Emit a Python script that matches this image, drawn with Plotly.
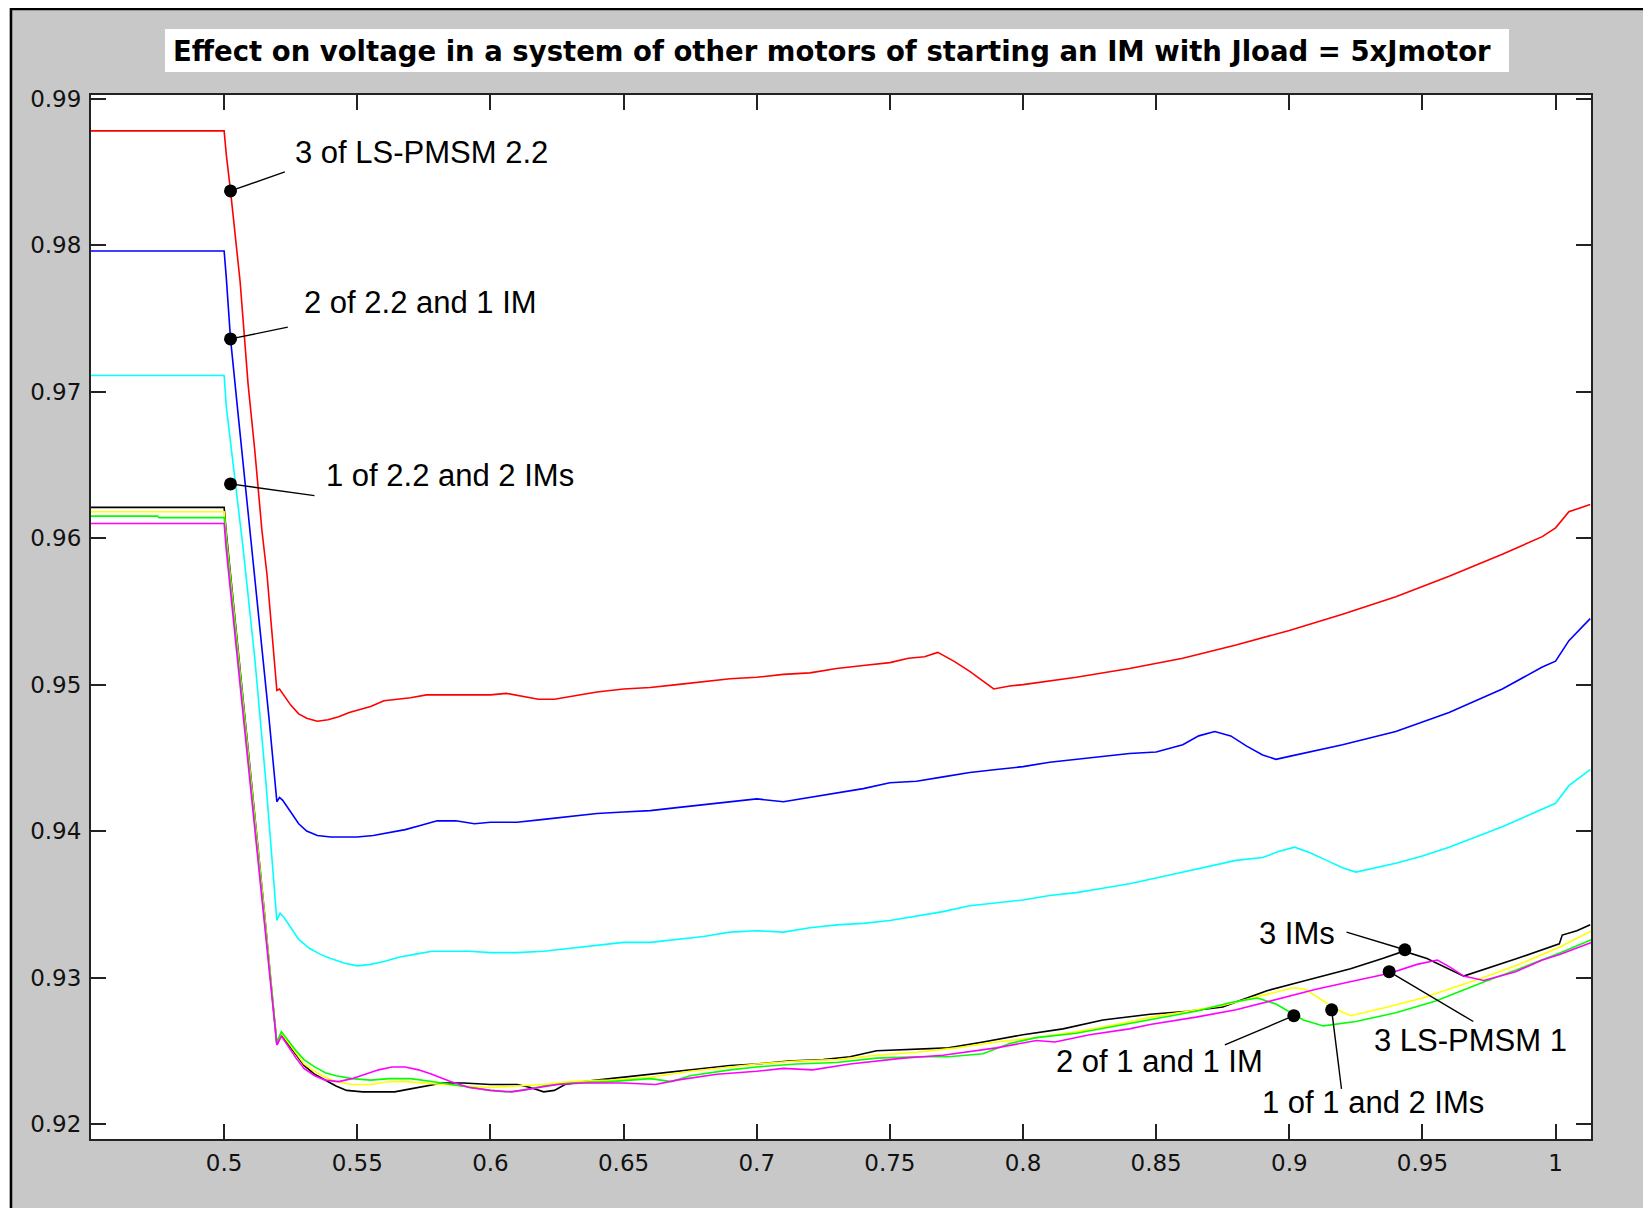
import plotly.graph_objects as go

# ---------------- data ----------------
red_x = [0.45, 0.5, 0.5008, 0.5024, 0.506, 0.509, 0.5115, 0.5142, 0.5161, 0.518, 0.5198, 0.5208, 0.522, 0.525, 0.528, 0.531, 0.535, 0.539, 0.543, 0.547, 0.551, 0.555, 0.56, 0.565, 0.57, 0.576, 0.582, 0.59, 0.6, 0.606, 0.612, 0.618, 0.624, 0.63, 0.64, 0.65, 0.66, 0.67, 0.68, 0.69, 0.7, 0.71, 0.72, 0.73, 0.74, 0.75, 0.757, 0.763, 0.768, 0.774, 0.78, 0.785, 0.789, 0.795, 0.8, 0.82, 0.84, 0.86, 0.88, 0.9, 0.92, 0.94, 0.96, 0.98, 0.995, 1.0, 1.005, 1.013]
red_y = [0.9878, 0.9878, 0.9862, 0.9837, 0.9775, 0.9705, 0.966, 0.9605, 0.9575, 0.9535, 0.9496, 0.9497, 0.9494, 0.9486, 0.9480, 0.9477, 0.9475, 0.9476, 0.9478, 0.9481, 0.9483, 0.9485, 0.9489, 0.9490, 0.9491, 0.9493, 0.9493, 0.9493, 0.9493, 0.9494, 0.9492, 0.9490, 0.9490, 0.9492, 0.9495, 0.9497, 0.9498, 0.9500, 0.9502, 0.9504, 0.9505, 0.9507, 0.9508, 0.9511, 0.9513, 0.9515, 0.9518, 0.9519, 0.9522, 0.9516, 0.9509, 0.9502, 0.9497, 0.9499, 0.9500, 0.9505, 0.9511, 0.9518, 0.9527, 0.9537, 0.9548, 0.9560, 0.9574, 0.9589, 0.9601, 0.9607, 0.9618, 0.9623]

blue_x = [0.45, 0.5, 0.5008, 0.5024, 0.5055, 0.5095, 0.5135, 0.5168, 0.5198, 0.5208, 0.522, 0.525, 0.528, 0.531, 0.535, 0.54, 0.545, 0.55, 0.556, 0.562, 0.568, 0.574, 0.58, 0.587, 0.594, 0.6, 0.61, 0.62, 0.63, 0.64, 0.65, 0.66, 0.67, 0.68, 0.69, 0.7, 0.71, 0.72, 0.73, 0.74, 0.75, 0.76, 0.77, 0.78, 0.79, 0.8, 0.81, 0.82, 0.83, 0.84, 0.85, 0.86, 0.866, 0.872, 0.878, 0.884, 0.89, 0.895, 0.9, 0.92, 0.94, 0.96, 0.98, 0.995, 1.0, 1.005, 1.013]
blue_y = [0.9796, 0.9796, 0.9778, 0.9736, 0.9680, 0.9610, 0.9540, 0.9478, 0.9420, 0.9423, 0.9421, 0.9413, 0.9405, 0.9400, 0.9397, 0.9396, 0.9396, 0.9396, 0.9397, 0.9399, 0.9401, 0.9404, 0.9407, 0.9407, 0.9405, 0.9406, 0.9406, 0.9408, 0.9410, 0.9412, 0.9413, 0.9414, 0.9416, 0.9418, 0.9420, 0.9422, 0.9420, 0.9423, 0.9426, 0.9429, 0.9433, 0.9434, 0.9437, 0.9440, 0.9442, 0.9444, 0.9447, 0.9449, 0.9451, 0.9453, 0.9454, 0.9459, 0.9465, 0.9468, 0.9465, 0.9458, 0.9452, 0.9449, 0.9451, 0.9459, 0.9468, 0.9481, 0.9497, 0.9512, 0.9516, 0.9530, 0.9545]

cyan_x = [0.45, 0.5, 0.5008, 0.5028, 0.507, 0.5115, 0.5157, 0.5198, 0.521, 0.5225, 0.525, 0.528, 0.532, 0.536, 0.54, 0.545, 0.55, 0.555, 0.56, 0.566, 0.572, 0.578, 0.585, 0.592, 0.6, 0.61, 0.62, 0.63, 0.64, 0.65, 0.66, 0.67, 0.68, 0.69, 0.7, 0.71, 0.72, 0.73, 0.74, 0.75, 0.76, 0.77, 0.78, 0.79, 0.8, 0.81, 0.82, 0.83, 0.84, 0.85, 0.86, 0.87, 0.88, 0.89, 0.896, 0.902, 0.908, 0.914, 0.92, 0.925, 0.93, 0.94, 0.95, 0.96, 0.97, 0.98, 0.99, 1.0, 1.005, 1.013]
cyan_y = [0.9711, 0.9711, 0.9690, 0.9660, 0.9595, 0.9518, 0.9433, 0.9339, 0.9344, 0.9341, 0.9334, 0.9326, 0.9320, 0.9316, 0.9313, 0.9310, 0.9308, 0.9309, 0.9311, 0.9314, 0.9316, 0.9318, 0.9318, 0.9318, 0.9317, 0.9317, 0.9318, 0.9320, 0.9322, 0.9324, 0.9324, 0.9326, 0.9328, 0.9331, 0.9332, 0.9331, 0.9334, 0.9336, 0.9337, 0.9339, 0.9342, 0.9345, 0.9349, 0.9351, 0.9353, 0.9356, 0.9358, 0.9361, 0.9364, 0.9368, 0.9372, 0.9376, 0.9380, 0.9382, 0.9386, 0.9389, 0.9385, 0.9380, 0.9375, 0.9372, 0.9374, 0.9378, 0.9383, 0.9389, 0.9396, 0.9403, 0.9411, 0.9419, 0.9431, 0.9442]

black_x = [0.45, 0.5, 0.5008, 0.505, 0.51, 0.515, 0.5198, 0.5215, 0.524, 0.527, 0.53, 0.534, 0.538, 0.542, 0.546, 0.552, 0.558, 0.564, 0.57, 0.576, 0.582, 0.59, 0.6, 0.61, 0.615, 0.62, 0.624, 0.628, 0.635, 0.645, 0.655, 0.665, 0.675, 0.69, 0.7, 0.712, 0.725, 0.735, 0.745, 0.76, 0.772, 0.785, 0.8, 0.815, 0.83, 0.8477, 0.862, 0.875, 0.8916, 0.904, 0.923, 0.935, 0.943, 0.9517, 0.9655, 0.9855, 1.0014, 1.0025, 1.008, 1.013]
black_y = [0.9621, 0.9621, 0.9604, 0.9526, 0.9438, 0.9347, 0.9254, 0.9261, 0.9255, 0.9247, 0.9240, 0.9234, 0.9230, 0.9226, 0.9223, 0.9222, 0.9222, 0.9222, 0.9224, 0.9226, 0.9228, 0.9228, 0.9227, 0.9227, 0.9225, 0.9222, 0.9223, 0.9227, 0.9229, 0.9231, 0.9233, 0.9235, 0.9237, 0.9240, 0.9241, 0.9243, 0.9244, 0.9246, 0.9250, 0.9251, 0.9252, 0.9256, 0.9261, 0.9265, 0.9271, 0.9275, 0.9277, 0.9280, 0.9291, 0.9297, 0.9306, 0.9313, 0.9318, 0.9313, 0.9301, 0.9313, 0.9323, 0.9329, 0.9332, 0.9336]

yellow_x = [0.45, 0.5, 0.5008, 0.505, 0.51, 0.515, 0.5198, 0.5215, 0.524, 0.527, 0.53, 0.534, 0.538, 0.542, 0.548, 0.555, 0.562, 0.568, 0.575, 0.582, 0.59, 0.6, 0.61, 0.62, 0.63, 0.645, 0.66, 0.675, 0.69, 0.7, 0.715, 0.73, 0.745, 0.76, 0.775, 0.79, 0.805, 0.82, 0.835, 0.848, 0.862, 0.875, 0.888, 0.9016, 0.906, 0.912, 0.918, 0.923, 0.935, 0.95, 0.9729, 0.985, 1.0018, 1.0136]
yellow_y = [0.9618, 0.9618, 0.9601, 0.9524, 0.9436, 0.9346, 0.9255, 0.9262, 0.9256, 0.9248, 0.9241, 0.9236, 0.9232, 0.9229, 0.9227, 0.9227, 0.9229, 0.9229, 0.9228, 0.9227, 0.9226, 0.9225, 0.9226, 0.9227, 0.9229, 0.9230, 0.9232, 0.9236, 0.9239, 0.9241, 0.9243, 0.9244, 0.9247, 0.9249, 0.9252, 0.9256, 0.9259, 0.9263, 0.9268, 0.9273, 0.9277, 0.9281, 0.9287, 0.9293, 0.9292, 0.9285, 0.9278, 0.9274, 0.9279, 0.9286, 0.9300, 0.9308, 0.9321, 0.9332]

green_x = [0.45, 0.475, 0.4755, 0.5, 0.5008, 0.505, 0.51, 0.515, 0.5198, 0.5215, 0.524, 0.527, 0.53, 0.534, 0.538, 0.542, 0.548, 0.555, 0.562, 0.57, 0.578, 0.585, 0.592, 0.6, 0.606, 0.612, 0.62, 0.63, 0.645, 0.66, 0.668, 0.675, 0.69, 0.7, 0.715, 0.73, 0.745, 0.76, 0.772, 0.785, 0.795, 0.805, 0.82, 0.835, 0.85, 0.865, 0.878, 0.888, 0.895, 0.9053, 0.9128, 0.925, 0.94, 0.955, 0.973, 0.985, 1.0018, 1.0136]
green_y = [0.9615, 0.9615, 0.9614, 0.9614, 0.9598, 0.9522, 0.9434, 0.9345, 0.9256, 0.9263, 0.9257, 0.9250, 0.9244, 0.9239, 0.9235, 0.9233, 0.9231, 0.9230, 0.9231, 0.9231, 0.9229, 0.9227, 0.9225, 0.9223, 0.9222, 0.9223, 0.9226, 0.9228, 0.9229, 0.9231, 0.9229, 0.9233, 0.9237, 0.9239, 0.9241, 0.9242, 0.9245, 0.9246, 0.9246, 0.9248, 0.9255, 0.9259, 0.9262, 0.9267, 0.9272, 0.9277, 0.9283, 0.9286, 0.9282, 0.9271, 0.9267, 0.9270, 0.9276, 0.9284, 0.9297, 0.9305, 0.9317, 0.9326]

magenta_x = [0.45, 0.5, 0.5008, 0.505, 0.51, 0.515, 0.5198, 0.5215, 0.524, 0.527, 0.53, 0.534, 0.538, 0.543, 0.548, 0.553, 0.558, 0.563, 0.568, 0.573, 0.578, 0.585, 0.592, 0.6, 0.608, 0.615, 0.625, 0.635, 0.65, 0.662, 0.67, 0.685, 0.7, 0.71, 0.721, 0.735, 0.755, 0.77, 0.79, 0.805, 0.812, 0.825, 0.84, 0.8477, 0.865, 0.88, 0.895, 0.91, 0.925, 0.9377, 0.948, 0.9556, 0.9605, 0.9655, 0.973, 0.985, 0.995, 1.0018, 1.0136]
magenta_y = [0.9610, 0.9610, 0.9592, 0.9518, 0.9430, 0.9342, 0.9254, 0.9260, 0.9253, 0.9245, 0.9238, 0.9233, 0.9230, 0.9229, 0.9231, 0.9234, 0.9237, 0.9239, 0.9239, 0.9237, 0.9234, 0.9229, 0.9225, 0.9223, 0.9222, 0.9224, 0.9227, 0.9228, 0.9228, 0.9227, 0.9230, 0.9234, 0.9236, 0.9238, 0.9237, 0.9241, 0.9245, 0.9247, 0.9252, 0.9257, 0.9256, 0.9261, 0.9265, 0.9268, 0.9273, 0.9278, 0.9285, 0.9292, 0.9298, 0.9303, 0.9309, 0.9312, 0.9307, 0.9301, 0.9298, 0.9304, 0.9312, 0.9316, 0.9324]

x_ticks = [0.5, 0.55, 0.6, 0.65, 0.7, 0.75, 0.8, 0.85, 0.9, 0.95, 1.0]
x_tick_labels = ["0.5", "0.55", "0.6", "0.65", "0.7", "0.75", "0.8", "0.85", "0.9", "0.95", "1"]
y_ticks = [0.92, 0.93, 0.94, 0.95, 0.96, 0.97, 0.98, 0.99]
y_tick_labels = ["0.92", "0.93", "0.94", "0.95", "0.96", "0.97", "0.98", "0.99"]

title_text = "Effect on voltage in a system of other motors of starting an IM with Jload = 5xJmotor"

# callouts: label, label anchor, dot position, far end of the leader line
label_text = ["3 of LS-PMSM 2.2", "2 of 2.2 and 1 IM", "1 of 2.2 and 2 IMs",
              "3 IMs", "3 LS-PMSM 1", "2 of 1 and 1 IM", "1 of 1 and 2 IMs"]
label_x = [0.5257, 0.5293, 0.5376, 0.8879, 0.9309, 0.8116, 0.8890]
label_y = [0.9863, 0.9761, 0.9643, 0.9330, 0.9257, 0.9243, 0.9215]
dot_x = [0.5024, 0.5024, 0.5024, 0.9434, 0.9375, 0.9017, 0.9159]
dot_y = [0.9837, 0.9736, 0.9637, 0.9319, 0.9304, 0.9274, 0.9278]
lead_x = [0.5228, 0.5239, 0.5339, 0.9215, 0.9691, 0.8758, 0.9196]
lead_y = [0.9850, 0.9744, 0.9629, 0.9331, 0.9270, 0.9254, 0.9224]

# ---------------- figure ----------------
# The page body has an 8 px margin, so figure pixel = page pixel - 8.
FONT = "DejaVu Sans, Liberation Sans, Arial, sans-serif"
LABEL_FONT = "Liberation Sans, Arial, sans-serif"
OFF = 8
W, H = 1651, 1208
L, T = 91 - OFF, 95 - OFF
R = W - (1591 - OFF)
B = H - (1139 - OFF)
PW, PH = W - L - R, H - T - B


def px(page_x):
    return (page_x - OFF - L) / PW


def py(page_y):
    return (H - B - (page_y - OFF)) / PH


fig = go.Figure()

series = [
    (red_x, red_y, "#ff0000"),
    (blue_x, blue_y, "#0000ff"),
    (cyan_x, cyan_y, "#00ffff"),
    (black_x, black_y, "#000000"),
    (yellow_x, yellow_y, "#ffff00"),
    (green_x, green_y, "#00ff00"),
    (magenta_x, magenta_y, "#ff00ff"),
]
for xs, ys, col in series:
    fig.add_trace(go.Scatter(x=xs, y=ys, mode="lines",
                             line=dict(color=col, width=1.6),
                             hoverinfo="skip", showlegend=False))

for i in range(len(dot_x)):
    fig.add_trace(go.Scatter(x=[dot_x[i], lead_x[i]], y=[dot_y[i], lead_y[i]],
                             mode="lines", line=dict(color="black", width=1.4),
                             hoverinfo="skip", showlegend=False))
fig.add_trace(go.Scatter(x=dot_x, y=dot_y, mode="markers",
                         marker=dict(color="black", size=13),
                         hoverinfo="skip", showlegend=False))

for t, xx, yy in zip(label_text, label_x, label_y):
    fig.add_annotation(x=xx, y=yy, text=t, showarrow=False,
                       xanchor="left", yanchor="middle",
                       font=dict(family=LABEL_FONT, size=31, color="black"))

shapes = [
    # white outside the window frame
    dict(type="rect", xref="paper", yref="paper", x0=px(0), x1=px(9.5), y0=py(H + 20), y1=py(0),
         fillcolor="white", line=dict(width=0), layer="below"),
    dict(type="rect", xref="paper", yref="paper", x0=px(1649), x1=px(W + 20), y0=py(H + 20), y1=py(0),
         fillcolor="white", line=dict(width=0), layer="below"),
    # black frame lines
    dict(type="line", xref="paper", yref="paper", x0=px(11), x1=px(11), y0=py(H + 20), y1=py(8),
         line=dict(color="black", width=2.5)),
    dict(type="line", xref="paper", yref="paper", x0=px(10), x1=px(1649), y0=py(9), y1=py(9),
         line=dict(color="black", width=2.5)),
    dict(type="line", xref="paper", yref="paper", x0=px(1648), x1=px(1648), y0=py(H + 20), y1=py(8),
         line=dict(color="black", width=2.5)),
    # title box
    dict(type="rect", xref="paper", yref="paper", x0=px(165), x1=px(1509), y0=py(72), y1=py(29),
         fillcolor="white", line=dict(width=0)),
]

fig.add_annotation(xref="paper", yref="paper", x=px(832), y=py(51), text="<b>" + title_text + "</b>",
                   showarrow=False, xanchor="center", yanchor="middle",
                   font=dict(family=FONT, size=27.5, color="black"))

axis_common = dict(showgrid=False, zeroline=False, showline=True, linecolor="#222222", linewidth=2,
                   mirror="ticks", ticks="inside", ticklen=15, tickwidth=1.5, tickcolor="#222222",
                   tickfont=dict(family=FONT, size=23, color="#111111"))

fig.update_layout(
    width=W, height=H,
    margin=dict(l=L, r=R, t=T, b=B, pad=0),
    paper_bgcolor="#c8c8c8", plot_bgcolor="white",
    showlegend=False,
    shapes=shapes,
    xaxis=dict(range=[0.45, 1.0133], tickmode="array", tickvals=x_ticks, ticktext=x_tick_labels,
               ticklabelstandoff=2, **axis_common),
    yaxis=dict(range=[0.91898, 0.99025], tickmode="array", tickvals=y_ticks, ticktext=y_tick_labels,
               ticklabelstandoff=3, **axis_common),
)

fig.write_html("out.html")
